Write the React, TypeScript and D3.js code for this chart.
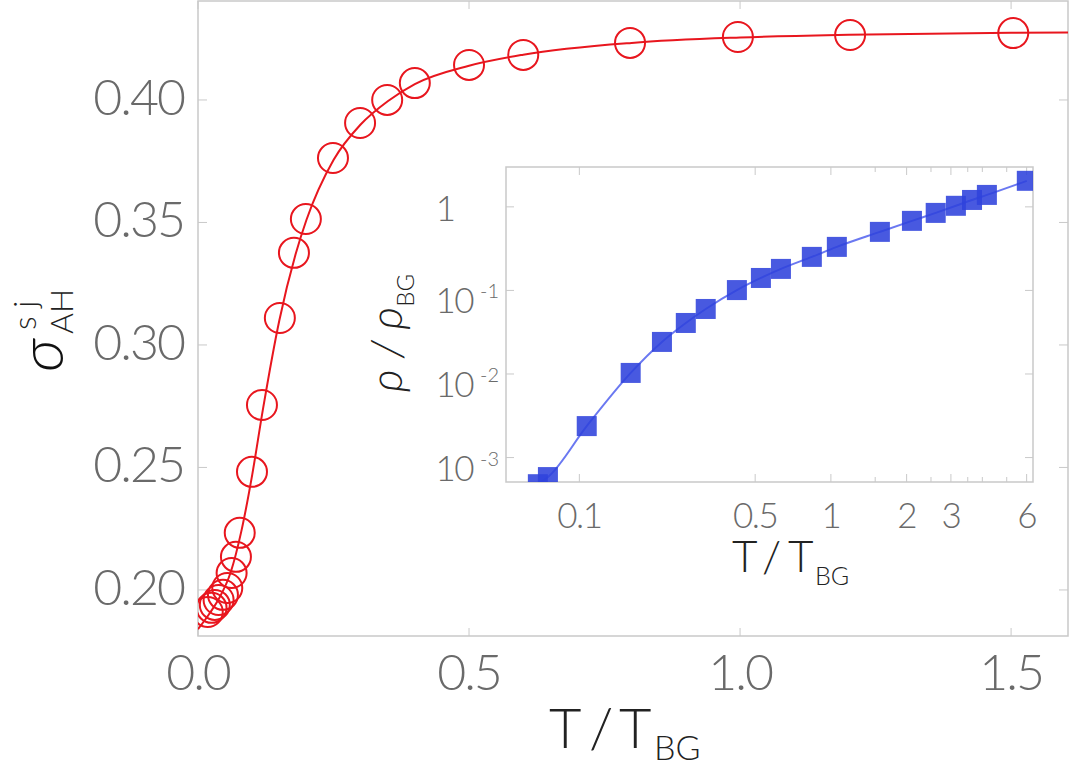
import { useEffect, useRef } from "react";
import * as d3 from "d3";

// main panel: sigma_AH^sj vs T/T_BG
const mainT = [
  0.018, 0.025, 0.031, 0.038, 0.046, 0.054, 0.062, 0.070, 0.077, 0.0996,
  0.118, 0.151, 0.177, 0.199, 0.249, 0.299, 0.349, 0.4, 0.5, 0.6, 0.797,
  0.996, 1.203, 1.504,
];
const mainSigma = [
  0.191, 0.1927, 0.1939, 0.1959, 0.198, 0.2008, 0.2069, 0.2135, 0.2233,
  0.2482, 0.2755, 0.311, 0.3376, 0.3514, 0.3763, 0.3906, 0.4, 0.4069,
  0.4143, 0.4184, 0.4233, 0.4257, 0.4265, 0.4273,
];
// fitted curve
const fitT = [
  0, 0.02, 0.04, 0.06, 0.08, 0.1, 0.12, 0.15, 0.18, 0.2, 0.25, 0.3, 0.35,
  0.4, 0.5, 0.6, 0.8, 1.0, 1.2, 1.5, 1.61,
];
const fitSigma = [
  0.184, 0.19, 0.197, 0.207, 0.224, 0.247, 0.274, 0.31, 0.337, 0.351,
  0.3755, 0.39, 0.3995, 0.4065, 0.414, 0.4185, 0.4233, 0.4255, 0.4266,
  0.4274, 0.4276,
];
const mainXTicks = [0, 0.5, 1.0, 1.5];
const mainYTicks = [0.2, 0.25, 0.3, 0.35, 0.4];

// inset: rho/rho_BG vs T/T_BG (log-log)
const insetT = [
  0.0684, 0.075, 0.107, 0.16, 0.213, 0.265, 0.318, 0.423, 0.527, 0.633,
  0.84, 1.056, 1.566, 2.1, 2.61, 3.14, 3.64, 4.17, 6.01,
];
const insetRho = [
  0.00048, 0.000584, 0.00238, 0.0103, 0.0242, 0.0408, 0.06, 0.101, 0.141,
  0.181, 0.252, 0.332, 0.502, 0.68, 0.847, 1.03, 1.21, 1.39, 2.05,
];
const insetXTicks = [0.1, 0.5, 1, 1.5, 2, 2.5, 3, 3.5, 4, 5, 6];
const insetXLabels = [0.1, 0.5, 1, 2, 3, 6];
const insetYTicks = [1, 0.1, 0.01, 0.001];
const insetYExp = ["", "-1", "-2", "-3"];

const FONT = "'Lato Light', Lato, 'Open Sans', sans-serif";
const GRID = "#c9c9c9";
const LABEL = "#6a6a6a";

// "T / T_BG" laid out glyph by glyph, spaced like the reference
function addTitle(
  g: d3.Selection<SVGGElement, unknown, null, undefined>,
  xs: number[],
  y: number,
  size: number,
  subSize: number,
  subDy: number
) {
  const t = g.append("text").attr("y", y).attr("fill", "#222").attr("font-size", size);
  t.append("tspan").attr("x", xs[0]).text("T");
  t.append("tspan").attr("x", xs[1]).text("/");
  t.append("tspan").attr("x", xs[2]).text("T");
  g.append("text")
    .attr("x", xs[3])
    .attr("y", y + subDy)
    .attr("font-size", subSize)
    .attr("fill", "#222")
    .text("BG");
}

export default function App() {
  const ref = useRef<SVGSVGElement>(null);

  useEffect(() => {
    const svg = d3.select(ref.current);
    svg.selectAll("*").remove();

    const x = d3.scaleLinear().domain([0, 1.605]).range([198, 1068]);
    const y = d3.scaleLinear().domain([0.1812, 0.4404]).range([636, 1]);

    const main = svg.append("g").attr("font-family", FONT).attr("font-weight", 300);
    main
      .append("defs")
      .append("clipPath")
      .attr("id", "mainClip")
      .append("rect")
      .attr("x", 198)
      .attr("y", 1)
      .attr("width", 870)
      .attr("height", 635);

    main
      .append("rect")
      .attr("x", 198)
      .attr("y", 1)
      .attr("width", 870)
      .attr("height", 635)
      .attr("fill", "white")
      .attr("stroke", GRID)
      .attr("stroke-width", 1.5);

    // ticks on all four sides
    mainXTicks.forEach((t) => {
      main.append("line").attr("x1", x(t)).attr("x2", x(t)).attr("y1", 636).attr("y2", 628).attr("stroke", GRID);
      main.append("line").attr("x1", x(t)).attr("x2", x(t)).attr("y1", 1).attr("y2", 9).attr("stroke", GRID);
      main
        .append("text")
        .attr("x", x(t))
        .attr("y", 690)
        .attr("text-anchor", "middle")
        .attr("font-size", 50)
        .attr("letter-spacing", -2)
        .attr("fill", LABEL)
        .text(d3.format(".1f")(t));
    });
    mainYTicks.forEach((t) => {
      main.append("line").attr("x1", 198).attr("x2", 207).attr("y1", y(t)).attr("y2", y(t)).attr("stroke", GRID);
      main.append("line").attr("x1", 1068).attr("x2", 1059).attr("y1", y(t)).attr("y2", y(t)).attr("stroke", GRID);
      main
        .append("text")
        .attr("x", 184)
        .attr("y", y(t) + 15)
        .attr("text-anchor", "end")
        .attr("font-size", 50)
        .attr("letter-spacing", -2)
        .attr("fill", LABEL)
        .text(d3.format(".2f")(t));
    });

    const plot = main.append("g").attr("clip-path", "url(#mainClip)");
    const fit = fitT.map((t, i) => [t, fitSigma[i]] as [number, number]);
    plot
      .append("path")
      .datum(fit)
      .attr("fill", "none")
      .attr("stroke", "#e8161e")
      .attr("stroke-width", 2)
      .attr(
        "d",
        d3
          .line()
          .x((d) => x(d[0]))
          .y((d) => y(d[1]))
          .curve(d3.curveMonotoneX)
      );
    plot
      .selectAll("circle")
      .data(mainT)
      .join("circle")
      .attr("cx", (d) => x(d))
      .attr("cy", (d, i) => y(mainSigma[i]))
      .attr("r", 15)
      .attr("fill", "none")
      .attr("stroke", "#e8161e")
      .attr("stroke-width", 2);

    // axis titles
    addTitle(main, [549, 589, 619, 654], 748, 56, 34, 12);

    const yt = main.append("g").attr("transform", "rotate(-90)").attr("fill", "#222");
    yt.append("text")
      .attr("x", -372)
      .attr("y", 63)
      .attr("font-size", 62)
      .attr("font-style", "italic")
      .attr("fill", "#111")
      .text("σ");
    yt.append("text").attr("x", -334).attr("y", 73).attr("font-size", 32).text("AH");
    yt.append("text").attr("x", -330).attr("y", 36).attr("font-size", 32).text("s j");

    // inset
    const ix = d3.scaleLog().domain([0.0511, 6.36]).range([506, 1033]);
    const iy = d3.scaleLog().domain([5.1e-4, 3.0]).range([482, 167]);
    const inset = svg.append("g").attr("font-family", FONT).attr("font-weight", 300);
    inset
      .append("defs")
      .append("clipPath")
      .attr("id", "insetClip")
      .append("rect")
      .attr("x", 506)
      .attr("y", 167)
      .attr("width", 527)
      .attr("height", 315);
    inset
      .append("rect")
      .attr("x", 506)
      .attr("y", 167)
      .attr("width", 527)
      .attr("height", 315)
      .attr("fill", "white")
      .attr("stroke", GRID)
      .attr("stroke-width", 1.5);

    insetXTicks.forEach((t) => {
      const len = insetXLabels.includes(t) ? 8 : 5;
      inset.append("line").attr("x1", ix(t)).attr("x2", ix(t)).attr("y1", 482).attr("y2", 482 - len).attr("stroke", GRID);
      inset.append("line").attr("x1", ix(t)).attr("x2", ix(t)).attr("y1", 167).attr("y2", 167 + len).attr("stroke", GRID);
    });
    insetXLabels.forEach((t) => {
      inset
        .append("text")
        .attr("x", ix(t))
        .attr("y", 528)
        .attr("text-anchor", "middle")
        .attr("font-size", 35)
        .attr("letter-spacing", -1.5)
        .attr("fill", LABEL)
        .text(String(t));
    });
    insetYTicks.forEach((t, i) => {
      inset.append("line").attr("x1", 506).attr("x2", 514).attr("y1", iy(t)).attr("y2", iy(t)).attr("stroke", GRID);
      inset.append("line").attr("x1", 1033).attr("x2", 1025).attr("y1", iy(t)).attr("y2", iy(t)).attr("stroke", GRID);
      const g = inset.append("g").attr("fill", LABEL);
      if (insetYExp[i] === "") {
        g.append("text")
          .attr("x", 456)
          .attr("y", iy(t) + 14)
          .attr("text-anchor", "end")
          .attr("font-size", 35)
          .text("1");
      } else {
        g.append("text")
          .attr("x", 473)
          .attr("y", iy(t) + 23)
          .attr("text-anchor", "end")
          .attr("font-size", 35)
          .attr("letter-spacing", -1.5)
          .text("10");
        g.append("text")
          .attr("x", 480)
          .attr("y", iy(t) + 8)
          .attr("font-size", 20)
          .text(insetYExp[i]);
      }
    });

    const ip = inset.append("g").attr("clip-path", "url(#insetClip)");
    const pts = insetT.map((t, i) => [t, insetRho[i]] as [number, number]);
    ip.append("path")
      .datum(pts)
      .attr("fill", "none")
      .attr("stroke", "#5060ee")
      .attr("stroke-opacity", 0.85)
      .attr("stroke-width", 2)
      .attr(
        "d",
        d3
          .line()
          .x((d) => ix(d[0]))
          .y((d) => iy(d[1]))
          .curve(d3.curveMonotoneX)
      );
    ip.selectAll("rect.sq")
      .data(pts)
      .join("rect")
      .attr("class", "sq")
      .attr("x", (d) => ix(d[0]) - 10)
      .attr("y", (d) => iy(d[1]) - 10)
      .attr("width", 20)
      .attr("height", 20)
      .attr("fill", "#2f42dc")
      .attr("fill-opacity", 0.88);

    addTitle(inset, [732, 762, 788, 815], 572, 44, 25, 13);

    const iyt = inset
      .append("text")
      .attr("transform", "translate(402,392) rotate(-90)")
      .attr("fill", "#222");
    iyt.append("tspan").attr("font-size", 44).attr("font-style", "italic").text("ρ / ρ");
    iyt.append("tspan").attr("font-size", 24).attr("dy", 12).text("BG");
  }, []);

  return (
    <svg
      ref={ref}
      width={1072}
      height={778}
      style={{ position: "absolute", left: 0, top: 0, background: "white" }}
    />
  );
}
